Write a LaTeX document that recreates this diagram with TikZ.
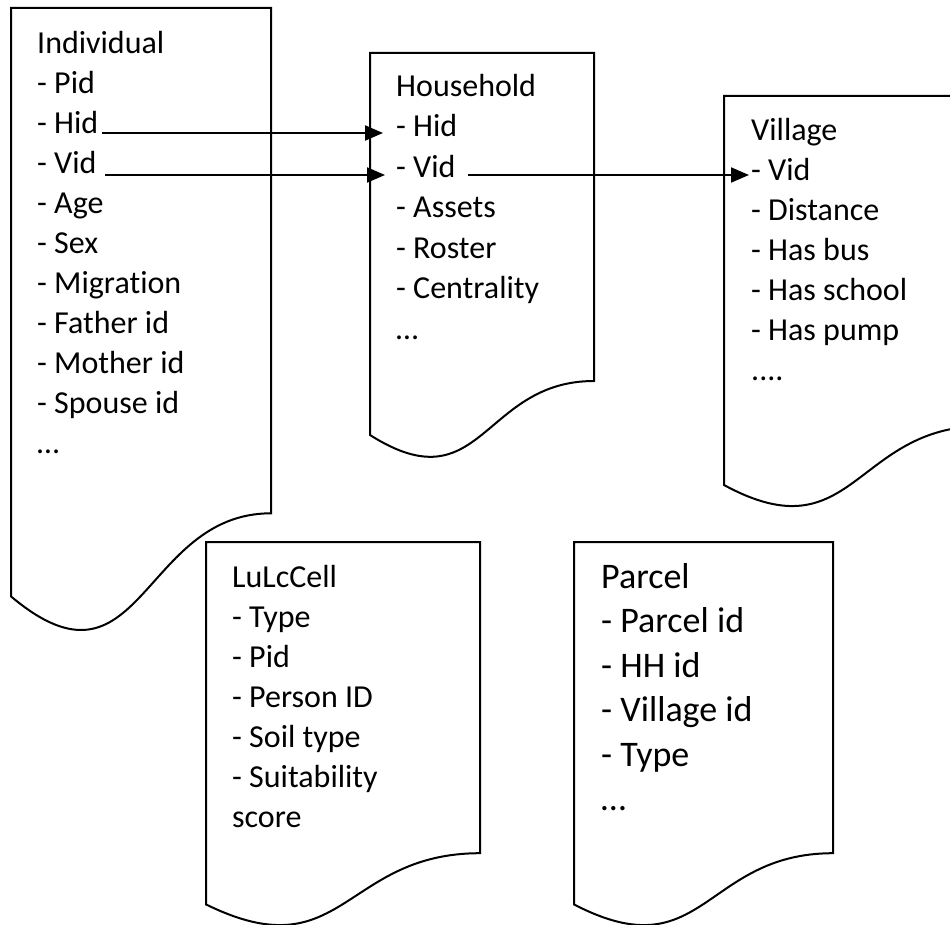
\documentclass[tikz,border=0pt]{standalone}
\usepackage{fontspec}
\setmainfont{Carlito}[Ligatures={NoCommon}]
\usetikzlibrary{arrows.meta}

\tikzset{
  docbox/.style={line width=2pt},
  fieldlist/.style={anchor=base west,inner sep=0pt,align=left,font=\fontsize{32}{40}\selectfont},
  link/.style={line width=2pt,-{Triangle[length=18pt,width=15pt]}}
}

\begin{document}
\begin{tikzpicture}[x=1pt,y=1pt,yscale=-1,xscale=1]
\useasboundingbox (0,0) rectangle (950,925);
\clip (0,0) rectangle (950,925);

%Shape: Document [id:individual]
\draw [docbox] (11,8) -- (271,8) -- (271,513.3) .. controls (141,513.3) and (141,705.7) .. (11,596.4) -- cycle ;
%Shape: Document [id:household]
\draw [docbox] (370,53) -- (594,53) -- (594,381) .. controls (482,381) and (482,506) .. (370,435) -- cycle ;
%Shape: Document [id:village]
\draw [docbox] (724,96) -- (984,96) -- (984,426) .. controls (854,426) and (854,555.6) .. (724,485) -- cycle ;
%Shape: Document [id:lulccell]
\draw [docbox] (206,542) -- (480,542) -- (480,853.2) .. controls (343,853.2) and (343,971.7) .. (206,904.4) -- cycle ;
%Shape: Document [id:parcel]
\draw [docbox] (574,542) -- (833,542) -- (833,853.2) .. controls (703.5,853.2) and (703.5,971.7) .. (574,904.4) -- cycle ;

% Text Node (placed at the baseline of the last line)
\draw (37,453) node [fieldlist] (indiv) {Individual\\- Pid\\- Hid\\- Vid\\- Age\\- Sex\\- Migration\\- Father id\\- Mother id\\- Spouse id\\…};
% Text Node
\draw (396,339) node [fieldlist,font=\fontsize{32}{40.5}\selectfont] (house) {Household\\- Hid\\- Vid\\- Assets\\- Roster\\- Centrality\\…};
% Text Node
\draw (751,380) node [fieldlist] (village) {Village\\- Vid\\- Distance\\- Has bus\\- Has school\\- Has pump\\....};
% Text Node
\draw (232,827) node [fieldlist] (lulc) {LuLcCell\\- Type\\- Pid\\- Person ID\\- Soil type\\- Suitability\\score};
% Text Node
\draw (601,810.5) node [fieldlist,font=\fontsize{36}{44.5}\selectfont] (parcel) {Parcel\\- Parcel id\\- HH id\\- Village id\\- Type\\…};

% Key ends
\coordinate (indHid) at (102,133);
\coordinate (houseHid) at (383,133);
\coordinate (indVid) at (105,175);
\coordinate (houseVidIn) at (385,175);
\coordinate (houseVidOut) at (468,175);
\coordinate (villageVid) at (749,175);

% Connection
\draw [link] (indHid) -- (houseHid) ;
% Connection
\draw [link] (indVid) -- (houseVidIn) ;
% Connection
\draw [link] (houseVidOut) -- (villageVid) ;

\end{tikzpicture}
\end{document}
